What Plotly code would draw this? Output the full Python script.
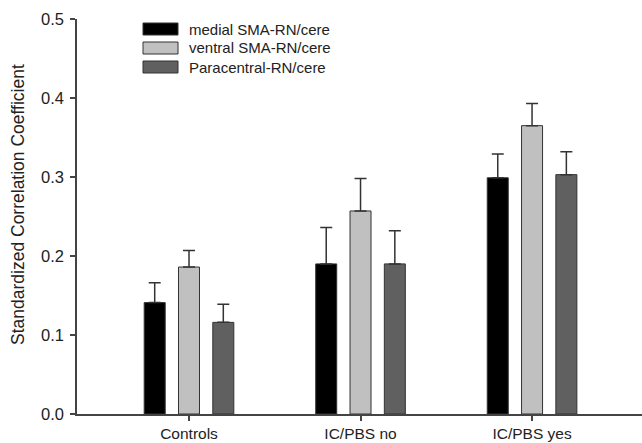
import plotly.graph_objects as go

categories = ["Controls", "IC/PBS no", "IC/PBS yes"]
series_names = ["medial SMA-RN/cere", "ventral SMA-RN/cere", "Paracentral-RN/cere"]
medial_vals = [0.141, 0.190, 0.299]
medial_err = [0.025, 0.046, 0.030]
ventral_vals = [0.186, 0.257, 0.365]
ventral_err = [0.021, 0.041, 0.028]
para_vals = [0.116, 0.190, 0.303]
para_err = [0.023, 0.042, 0.029]
colors = ["#000000", "#c0c0c0", "#606060"]
y_ticks = [0.0, 0.1, 0.2, 0.3, 0.4, 0.5]

W, H = 642, 443
L, R, T, B = 77, 0, 19, 29
pw, ph = W - L - R, H - T - B

def px(x):
    return (x - L) / pw

def py(y):
    return (H - B - y) / ph

fig = go.Figure()
for name, vals, errs, col in zip(series_names, [medial_vals, ventral_vals, para_vals],
                                 [medial_err, ventral_err, para_err], colors):
    fig.add_trace(go.Bar(
        x=categories, y=vals, name=name,
        marker=dict(color=col, line=dict(color="#333333", width=1)),
        error_y=dict(type="data", array=errs, arrayminus=[0] * len(errs), symmetric=False,
                     color="#333333", thickness=1.5, width=6),
        showlegend=False,
    ))

# legend drawn as keys + text
rows = [29, 48, 67]
for name, col, ry in zip(series_names, colors, rows):
    fig.add_shape(type="rect", xref="paper", yref="paper",
                  x0=px(143), x1=px(178), y0=py(ry + 6), y1=py(ry - 6),
                  fillcolor=col, line=dict(color="#333333", width=1))
    fig.add_annotation(xref="paper", yref="paper", x=px(187), y=py(ry), text=name,
                       showarrow=False, xanchor="left", yanchor="middle",
                       font=dict(size=15, color="#222222"))

fig.add_annotation(xref="paper", yref="paper", x=px(18), y=py(205),
                   text="Standardized Correlation Coefficient", textangle=-90,
                   showarrow=False, xanchor="center", yanchor="middle",
                   font=dict(size=17.5, color="#222222"))

fig.update_layout(
    width=W, height=H,
    margin=dict(l=L, r=R, t=T, b=B, pad=0),
    paper_bgcolor="white", plot_bgcolor="white",
    barmode="group", bargap=0.4, bargroupgap=0.3875,
    font=dict(family="Liberation Sans, Arial, sans-serif", color="#222222", size=15),
    xaxis=dict(range=[-0.653, 2.641], showline=True, linecolor="#444444", linewidth=1.5,
               ticks="outside", ticklen=5, tickwidth=1.5, tickcolor="#444444",
               showgrid=False, zeroline=False, tickfont=dict(size=15.5)),
    yaxis=dict(range=[0, 0.5], tickvals=y_ticks, tickformat=".1f", showline=True,
               linecolor="#444444", linewidth=1.5, ticks="outside", ticklen=5, tickwidth=1.5,
               tickcolor="#444444", showgrid=False, zeroline=False, tickfont=dict(size=16.5),
               ticklabelstandoff=3),
)

fig.write_html("out.html", config={"displayModeBar": False},
               post_script="document.body.style.margin='0';document.body.style.overflow='hidden';")
